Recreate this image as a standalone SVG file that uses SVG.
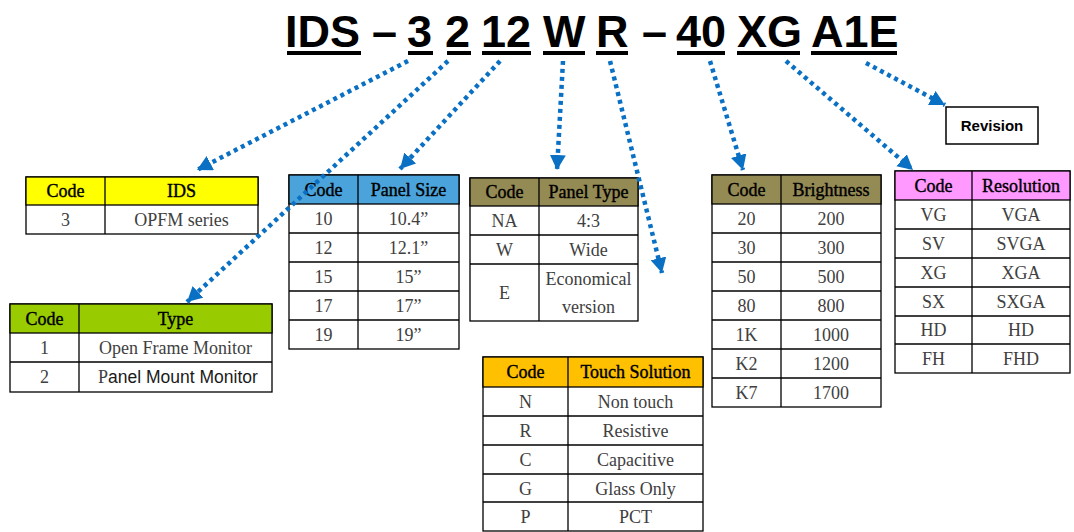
<svg xmlns="http://www.w3.org/2000/svg" width="1074" height="532" viewBox="0 0 1074 532">
<defs>
<style>
.tt{font-family:"Liberation Sans",Arial,sans-serif;font-weight:bold;font-size:45px;fill:#000}
.ul{fill:#000}
.hd{font-family:"Liberation Serif","Times New Roman",serif;font-size:18px;fill:#000;stroke:#000;stroke-width:0.4;text-anchor:middle}
.bd{font-family:"Liberation Serif","Times New Roman",serif;font-size:18px;fill:#404040;text-anchor:middle}
.cell{fill:#fff;stroke:#000;stroke-width:1.3}
.ln{stroke:#000;stroke-width:1.3}
.conn{stroke:#0A70C4;stroke-width:4.5;stroke-dasharray:4 4;fill:none}
</style>
<marker id="ah" markerUnits="userSpaceOnUse" markerWidth="18" markerHeight="18" refX="15" refY="8" orient="auto">
<path d="M0,0 L15,8 L0,16 Z" fill="#0A70C4"/>
</marker>
</defs>
<rect width="1074" height="532" fill="#fff"/>

<g id="title">
<text class="tt" x="285" y="47">IDS</text>
<text class="tt" x="372" y="47">–</text>
<text class="tt" x="407" y="47">3</text>
<text class="tt" x="445" y="47">2</text>
<text class="tt" x="481" y="47">12</text>
<text class="tt" x="543" y="47">W</text>
<text class="tt" x="596" y="47">R</text>
<text class="tt" x="642" y="47">–</text>
<text class="tt" x="676" y="47">40</text>
<text class="tt" x="737" y="47">XG</text>
<text class="tt" x="811" y="47">A1E</text>
<rect class="ul" x="287" y="51" width="74" height="4"/>
<rect class="ul" x="408" y="51" width="25" height="4"/>
<rect class="ul" x="447" y="51" width="24" height="4"/>
<rect class="ul" x="482" y="51" width="49" height="4"/>
<rect class="ul" x="543" y="51" width="42" height="4"/>
<rect class="ul" x="596" y="51" width="32" height="4"/>
<rect class="ul" x="677" y="51" width="48" height="4"/>
<rect class="ul" x="737" y="51" width="63" height="4"/>
<rect class="ul" x="811" y="51" width="86" height="4"/>
</g>

<g id="table-ids">
<rect class="cell" x="26" y="177" width="232" height="57"/>
<rect x="26" y="177" width="232" height="28" fill="#FFFF00" stroke="#000" stroke-width="1.3"/>
<line class="ln" x1="105" y1="177" x2="105" y2="234"/>
<text class="hd" x="65.5" y="197">Code</text>
<text class="hd" x="181.5" y="197">IDS</text>
<text class="bd" x="65.5" y="226">3</text>
<text class="bd" x="181.5" y="226">OPFM series</text>
</g>

<g id="table-type">
<rect class="cell" x="10" y="304" width="262" height="88" stroke-width="1.8"/>
<rect x="10" y="304" width="262" height="29" fill="#99CC00" stroke="#000" stroke-width="1.3"/>
<line class="ln" x1="10" y1="362" x2="272" y2="362"/>
<line class="ln" x1="79" y1="304" x2="79" y2="392"/>
<text class="hd" x="44.5" y="324.5">Code</text>
<text class="hd" x="175.5" y="324.5">Type</text>
<text class="bd" x="44.5" y="353.5">1</text>
<text class="bd" x="175.5" y="353.5">Open Frame Monitor</text>
<text class="bd" x="44.5" y="383">2</text>
<text x="98" y="383" style="font-family:'Liberation Sans',Arial,sans-serif;font-size:17.5px;fill:#1a1a1a"><tspan style="font-family:'Liberation Serif',serif;font-size:18px;fill:#404040">P</tspan>anel Mount Monitor</text>
</g>

<g id="table-panel-size">
<rect class="cell" x="289" y="175" width="170" height="174"/>
<rect x="289" y="175" width="170" height="29" fill="#4BA3DB" stroke="#000" stroke-width="1.3"/>
<line class="ln" x1="289" y1="233" x2="459" y2="233"/>
<line class="ln" x1="289" y1="262" x2="459" y2="262"/>
<line class="ln" x1="289" y1="291" x2="459" y2="291"/>
<line class="ln" x1="289" y1="320" x2="459" y2="320"/>
<line class="ln" x1="358" y1="175" x2="358" y2="349"/>
<text class="hd" x="323.5" y="195.5">Code</text>
<text class="hd" x="408.5" y="195.5">Panel Size</text>
<text class="bd" x="323.5" y="224.5">10</text><text class="bd" x="408.5" y="224.5">10.4”</text>
<text class="bd" x="323.5" y="253.5">12</text><text class="bd" x="408.5" y="253.5">12.1”</text>
<text class="bd" x="323.5" y="282.5">15</text><text class="bd" x="408.5" y="282.5">15”</text>
<text class="bd" x="323.5" y="311.5">17</text><text class="bd" x="408.5" y="311.5">17”</text>
<text class="bd" x="323.5" y="340.5">19</text><text class="bd" x="408.5" y="340.5">19”</text>
</g>

<g id="table-panel-type">
<rect class="cell" x="470" y="178" width="168" height="143"/>
<rect x="470" y="178" width="168" height="28" fill="#948A54" stroke="#000" stroke-width="1.3"/>
<line class="ln" x1="470" y1="235" x2="638" y2="235"/>
<line class="ln" x1="470" y1="264" x2="638" y2="264"/>
<line class="ln" x1="539" y1="178" x2="539" y2="321"/>
<text class="hd" x="504.5" y="198">Code</text>
<text class="hd" x="588.5" y="198">Panel Type</text>
<text class="bd" x="504.5" y="226.5">NA</text><text class="bd" x="588.5" y="226.5">4:3</text>
<text class="bd" x="504.5" y="255.5">W</text><text class="bd" x="588.5" y="255.5">Wide</text>
<text class="bd" x="504.5" y="298.5">E</text>
<text class="bd" x="588.5" y="285">Economical</text>
<text class="bd" x="588.5" y="313">version</text>
</g>

<g id="table-touch">
<rect class="cell" x="483" y="357" width="220" height="174"/>
<rect x="483" y="357" width="220" height="30" fill="#FFC000" stroke="#000" stroke-width="1.3"/>
<line class="ln" x1="483" y1="416" x2="703" y2="416"/>
<line class="ln" x1="483" y1="445" x2="703" y2="445"/>
<line class="ln" x1="483" y1="474" x2="703" y2="474"/>
<line class="ln" x1="483" y1="502" x2="703" y2="502"/>
<line class="ln" x1="568" y1="357" x2="568" y2="531"/>
<text class="hd" x="525.5" y="378">Code</text>
<text class="hd" x="635.5" y="378">Touch Solution</text>
<text class="bd" x="525.5" y="407.5">N</text><text class="bd" x="635.5" y="407.5">Non touch</text>
<text class="bd" x="525.5" y="436.5">R</text><text class="bd" x="635.5" y="436.5">Resistive</text>
<text class="bd" x="525.5" y="465.5">C</text><text class="bd" x="635.5" y="465.5">Capacitive</text>
<text class="bd" x="525.5" y="494.5">G</text><text class="bd" x="635.5" y="494.5">Glass Only</text>
<text class="bd" x="525.5" y="522.5">P</text><text class="bd" x="635.5" y="522.5">PCT</text>
</g>

<g id="table-brightness">
<rect class="cell" x="712" y="175" width="169" height="232"/>
<rect x="712" y="175" width="169" height="29" fill="#948A54" stroke="#000" stroke-width="1.3"/>
<line class="ln" x1="712" y1="233" x2="881" y2="233"/>
<line class="ln" x1="712" y1="262" x2="881" y2="262"/>
<line class="ln" x1="712" y1="291" x2="881" y2="291"/>
<line class="ln" x1="712" y1="320" x2="881" y2="320"/>
<line class="ln" x1="712" y1="349" x2="881" y2="349"/>
<line class="ln" x1="712" y1="378" x2="881" y2="378"/>
<line class="ln" x1="781" y1="175" x2="781" y2="407"/>
<text class="hd" x="746.5" y="195.5">Code</text>
<text class="hd" x="831" y="195.5">Brightness</text>
<text class="bd" x="746.5" y="224.5">20</text><text class="bd" x="831" y="224.5">200</text>
<text class="bd" x="746.5" y="253.5">30</text><text class="bd" x="831" y="253.5">300</text>
<text class="bd" x="746.5" y="282.5">50</text><text class="bd" x="831" y="282.5">500</text>
<text class="bd" x="746.5" y="311.5">80</text><text class="bd" x="831" y="311.5">800</text>
<text class="bd" x="746.5" y="340.5">1K</text><text class="bd" x="831" y="340.5">1000</text>
<text class="bd" x="746.5" y="369.5">K2</text><text class="bd" x="831" y="369.5">1200</text>
<text class="bd" x="746.5" y="398.5">K7</text><text class="bd" x="831" y="398.5">1700</text>
</g>

<g id="table-resolution">
<rect class="cell" x="895" y="171" width="175" height="202"/>
<rect x="895" y="171" width="175" height="29" fill="#FF99FF" stroke="#000" stroke-width="1.3"/>
<line class="ln" x1="895" y1="229" x2="1070" y2="229"/>
<line class="ln" x1="895" y1="258" x2="1070" y2="258"/>
<line class="ln" x1="895" y1="287" x2="1070" y2="287"/>
<line class="ln" x1="895" y1="316" x2="1070" y2="316"/>
<line class="ln" x1="895" y1="344" x2="1070" y2="344"/>
<line class="ln" x1="972" y1="171" x2="972" y2="373"/>
<text class="hd" x="933.5" y="191.5">Code</text>
<text class="hd" x="1021" y="191.5">Resolution</text>
<text class="bd" x="933.5" y="220.5">VG</text><text class="bd" x="1021" y="220.5">VGA</text>
<text class="bd" x="933.5" y="249.5">SV</text><text class="bd" x="1021" y="249.5">SVGA</text>
<text class="bd" x="933.5" y="278.5">XG</text><text class="bd" x="1021" y="278.5">XGA</text>
<text class="bd" x="933.5" y="307.5">SX</text><text class="bd" x="1021" y="307.5">SXGA</text>
<text class="bd" x="933.5" y="336">HD</text><text class="bd" x="1021" y="336">HD</text>
<text class="bd" x="933.5" y="364.5">FH</text><text class="bd" x="1021" y="364.5">FHD</text>
</g>

<g id="revision">
<rect x="946" y="107" width="92" height="37" fill="#fff" stroke="#000" stroke-width="1.5"/>
<text x="992" y="131" style="font-family:'Liberation Sans',Arial,sans-serif;font-weight:bold;font-size:15px;fill:#000;text-anchor:middle">Revision</text>
</g>

<g id="connectors">
<line class="conn" x1="408" y1="61" x2="197" y2="170" marker-end="url(#ah)"/>
<line class="conn" x1="448" y1="61" x2="187" y2="302" marker-end="url(#ah)"/>
<line class="conn" x1="500" y1="61" x2="400" y2="169" marker-end="url(#ah)"/>
<line class="conn" x1="563" y1="61" x2="557" y2="170" marker-end="url(#ah)"/>
<line class="conn" x1="610" y1="61" x2="662" y2="273" marker-end="url(#ah)"/>
<line class="conn" x1="710" y1="61" x2="743" y2="170" marker-end="url(#ah)"/>
<line class="conn" x1="786" y1="61" x2="913" y2="170" marker-end="url(#ah)"/>
<line class="conn" x1="866" y1="63" x2="945" y2="105" marker-end="url(#ah)"/>
</g>
</svg>
